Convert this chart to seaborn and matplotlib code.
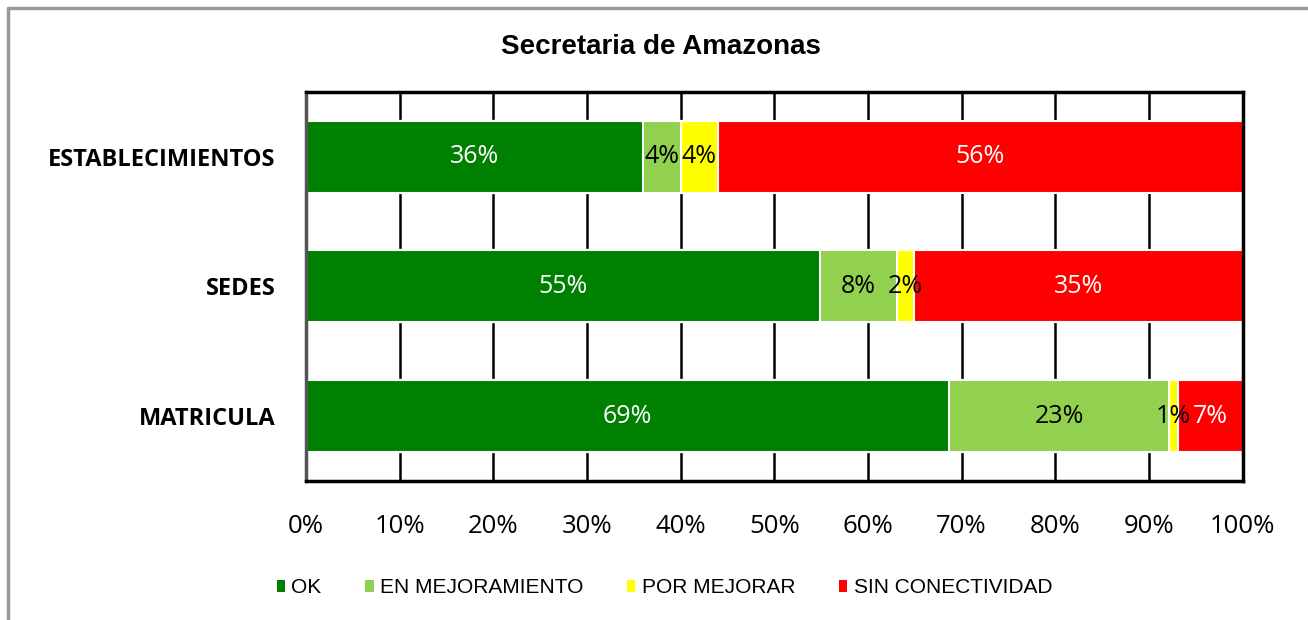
import pandas as pd
import numpy as np
import matplotlib.pyplot as plt
import seaborn as sns
from matplotlib.lines import Line2D
from matplotlib.patches import Patch

categorias = ['ESTABLECIMIENTOS', 'SEDES', 'MATRICULA']
series = ['OK', 'EN MEJORAMIENTO', 'POR MEJORAR', 'SIN CONECTIVIDAD']
ok = [36.0, 54.9, 68.7]
en_mejoramiento = [4.0, 8.2, 23.4]
por_mejorar = [4.0, 1.8, 1.0]
sin_conectividad = [56.0, 35.1, 6.9]
colores = ['#008000', '#92D050', '#FFFF00', '#FF0000']
color_texto = ['white', 'black', 'black', 'white']

df = pd.DataFrame({'categoria': categorias, 'OK': ok, 'EN MEJORAMIENTO': en_mejoramiento,
                   'POR MEJORAR': por_mejorar, 'SIN CONECTIVIDAD': sin_conectividad})
acum = df[series].cumsum(axis=1)
acum['categoria'] = df['categoria']

sns.set_style('white')
plt.rcParams['font.family'] = ['Open Sans', 'DejaVu Sans']
plt.rcParams['text.color'] = 'black'
plt.rcParams['xtick.color'] = 'black'
plt.rcParams['ytick.color'] = 'black'

fig = plt.figure(figsize=(13.08, 6.2), dpi=100)
ax = fig.add_axes([0.234, 0.224, 0.716, 0.628])

# grid verticales (debajo de las barras)
for x in range(10, 100, 10):
    ax.axvline(x, color='black', lw=1.8, zorder=0)

# barras apiladas: se dibuja el acumulado de mayor a menor
for i in range(len(series) - 1, -1, -1):
    sns.barplot(data=acum, x=series[i], y='categoria', orient='h', color=colores[i],
                saturation=1, width=0.555, edgecolor='white', linewidth=1.5,
                ax=ax, zorder=2)

# etiquetas
for j in range(len(categorias)):
    izq = 0
    for i, s in enumerate(series):
        v = df.loc[j, s]
        ax.text(izq + v / 2, j, f'{round(v):.0f}%', ha='center', va='center',
                fontsize=18, color=color_texto[i], zorder=5)
        izq += v

ax.set_xlim(0, 100)
ax.set_ylim(2.5, -0.5)
ax.set_xticks(range(0, 101, 10))
ax.set_xticklabels([f'{x}%' for x in range(0, 101, 10)], fontsize=18.5)
ax.tick_params(axis='x', length=0, pad=24)
ax.tick_params(axis='y', length=0, pad=22)
ax.set_yticks(range(len(categorias)))
ax.set_yticklabels(categorias, fontsize=17, fontweight='bold')
ax.set_xlabel('')
ax.set_ylabel('')
for s in ax.spines.values():
    s.set_visible(True)
    s.set_color('black')
    s.set_linewidth(2.5)
ax.spines['left'].set_color('#555555')

fig.text(0.505, 0.925, 'Secretaria de Amazonas', ha='center', va='center',
         fontsize=20, fontweight='bold', family=['Liberation Sans', 'DejaVu Sans'])

handles = [Patch(facecolor=c, edgecolor='none') for c in colores]
leg = fig.legend(handles, series, loc='center', bbox_to_anchor=(0.508, 0.052), ncol=4,
                 frameon=False, handlelength=0.4, handleheight=0.55, handletextpad=0.3,
                 columnspacing=2.1,
                 prop={'family': ['Liberation Sans', 'DejaVu Sans'], 'size': 15})

# borde exterior
fig.add_artist(Line2D([8 / 1308, 8 / 1308], [0, 1 - 8 / 620], color='#999999', lw=2.5))
fig.add_artist(Line2D([8 / 1308, 1], [1 - 8 / 620, 1 - 8 / 620], color='#999999', lw=2.5))

fig.savefig('out.png', dpi=100)
